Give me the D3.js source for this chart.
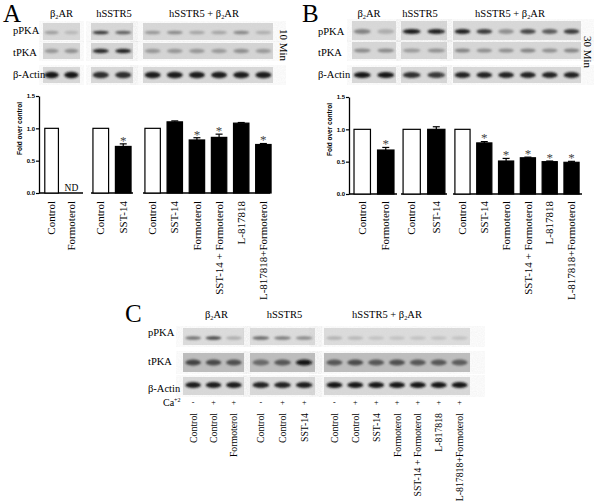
<!DOCTYPE html>
<html>
<head>
<meta charset="utf-8">
<script src="https://cdn.jsdelivr.net/npm/d3@7"></script>
<style>
  body { margin: 0; background: #fff; }
  .serif { font-family: "Liberation Serif", "DejaVu Serif", serif; }
  .sans { font-family: "Liberation Sans", Arial, sans-serif; }
</style>
</head>
<body>
<script>
// ---- data ----
const groupNames = ["β2AR", "hSSTR5", "hSSTR5 + β2AR"];
const rowNames = ["pPKA", "tPKA", "β-Actin"];

// panel A, 10 min
const labelsA = [["Control", "Formoterol"], ["Control", "SST-14"],
  ["Control", "SST-14", "Formoterol", "SST-14 + Formoterol", "L-817818", "L-817818+Formoterol"]];
const valuesA = [[1.0, null], [1.0, 0.72], [1.0, 1.10, 0.82, 0.86, 1.08, 0.75]];
const errorsA = [[0, 0], [0, 0.04], [0, 0.015, 0.035, 0.05, 0.01, 0.015]];
const starsA = [[0, 0], [0, 1], [0, 0, 1, 1, 0, 1]];

// panel B, 30 min
const labelsB = labelsA;
const valuesB = [[1.0, 0.68], [1.0, 1.0], [1.0, 0.79, 0.51, 0.56, 0.50, 0.49]];
const errorsB = [[0, 0.04], [0, 0.04], [0, 0.02, 0.04, 0.01, 0.01, 0.015]];
const starsB = [[0, 1], [0, 0], [0, 1, 1, 1, 1, 1]];

// panel C lanes
const labelsC = [["Control", "Control", "Formoterol"], ["Control", "Control", "SST-14"],
  ["Control", "Control", "SST-14", "Formoterol", "SST-14 + Formoterol", "L-817818", "L-817818+Formoterol"]];
const calciumC = [["-", "+", "+"], ["-", "+", "+"], ["-", "+", "+", "+", "+", "+", "+"]];

// band darkness (0 = none, 1 = black)
const pPKA_A = [[0.28, 0.15], [0.8, 0.6], [0.32, 0.38, 0.25, 0.25, 0.4, 0.2]];
const tPKA_A = [[0.32, 0.35], [0.88, 0.92], [0.32, 0.32, 0.32, 0.3, 0.36, 0.3]];
const actin_A = [[0.97, 0.97], [0.85, 0.85], [0.95, 0.95, 0.95, 0.95, 0.95, 0.95]];
const pPKA_B = [[0.42, 0.2], [0.95, 0.92], [0.92, 0.78, 0.35, 0.72, 0.62, 0.78]];
const tPKA_B = [[0.38, 0.38], [0.3, 0.35], [0.42, 0.36, 0.36, 0.42, 0.36, 0.42]];
const actin_B = [[0.97, 0.97], [0.85, 0.8], [0.92, 0.92, 0.92, 0.92, 0.92, 0.92]];
const pPKA_C = [[0.5, 0.72, 0.2], [0.55, 0.45, 0.38], [0.18, 0.15, 0.1, 0.1, 0.1, 0.1, 0.1]];
const tPKA_C = [[0.75, 0.72, 0.68], [0.55, 0.65, 0.98], [0.65, 0.7, 0.65, 0.68, 0.65, 0.65, 0.62]];
const actin_C = [[0.95, 0.95, 0.95], [0.92, 0.92, 0.95], [0.97, 0.97, 0.97, 0.97, 0.97, 0.97, 0.97]];

// ---- setup ----
const svg = d3.select('body').append('svg')
  .attr('width', 600).attr('height', 504)
  .style('display', 'block');
svg.append('rect').attr('width', 600).attr('height', 504).attr('fill', '#fff');

const defs = svg.append('defs');
defs.append('filter').attr('id', 'blur')
  .attr('x', '-30%').attr('y', '-60%').attr('width', '160%').attr('height', '220%')
  .append('feGaussianBlur').attr('stdDeviation', 0.9);
let grain = defs.append('filter').attr('id', 'grain');
grain.append('feTurbulence').attr('type', 'fractalNoise').attr('baseFrequency', 0.8).attr('numOctaves', 2).attr('seed', 3);
grain.append('feColorMatrix').attr('values', '0 0 0 0 0.5  0 0 0 0 0.5  0 0 0 0 0.5  0 0 0 0.35 0');

const shade = d3.interpolateRgb('#d4d4d4', '#121212');

const laneScales = (boxes, labels, pi, po) =>
  boxes.map((b, gi) => d3.scaleBand().domain(d3.range(labels[gi].length)).range(b)
    .paddingInner(pi).paddingOuter(po));

const headerText = (g, x, y, txt, size) => {
  let t = g.append('text').attr('class', 'serif').attr('x', x).attr('y', y)
    .attr('text-anchor', 'middle').attr('font-size', size);
  txt.split('β2').forEach((part, i) => {
    if (i > 0) {
      t.append('tspan').text('β');
      t.append('tspan').attr('font-size', size * 0.6).attr('dy', 1.5).text('2');
      t.append('tspan').attr('dy', -1.5).text(part);
    } else t.append('tspan').text(part);
  });
};

const drawBlots = (g, cfg, scales, rows) => {
  scales.forEach((xs, gi) => {
    headerText(g, (cfg.boxes[gi][0] + cfg.boxes[gi][1]) / 2 + cfg.headDx[gi], cfg.headY, groupNames[gi], 10.5);
    rows.forEach((row, ri) => {
      let [y0, y1] = cfg.rows[ri];
      let bx = cfg.boxes[gi];
      g.append('rect').attr('x', bx[0]).attr('y', y0).attr('width', bx[1] - bx[0]).attr('height', y1 - y0)
        .attr('fill', cfg.bg[ri]);
      g.append('rect').attr('x', bx[0]).attr('y', y0).attr('width', bx[1] - bx[0]).attr('height', y1 - y0)
        .attr('filter', 'url(#grain)').attr('opacity', 0.5);
      g.selectAll(null).data(row[gi]).enter().append('ellipse')
        .attr('cx', (d, i) => xs(i) + xs.bandwidth() / 2)
        .attr('cy', (y0 + y1) / 2 + cfg.bandDy[ri])
        .attr('rx', xs.bandwidth() * 0.48)
        .attr('ry', cfg.bandH[ri])
        .attr('fill', d => shade(d))
        .attr('filter', 'url(#blur)');
    });
  });
  rowNames.forEach((r, ri) => {
    g.append('text').attr('class', 'serif').attr('x', cfg.rowX).attr('y', cfg.rowY[ri])
      .attr('font-size', 10.5).text(r);
  });
};

const laneLabels = (g, scales, labels, top, size) => {
  scales.forEach((xs, gi) => {
    g.selectAll(null).data(labels[gi]).enter().append('text')
      .attr('class', 'serif').attr('font-size', size).attr('text-anchor', 'end')
      .attr('transform', (d, i) => `translate(${xs(i) + xs.bandwidth() / 2 + 3.6},${top}) rotate(-90)`)
      .text(d => d);
  });
};

const drawChart = (g, cfg, scales, values, errors, stars) => {
  let y = d3.scaleLinear().domain([0, 1.5]).range([cfg.y0, cfg.y1]);
  let ax = g.append('g').attr('transform', `translate(${cfg.axisX},0)`)
    .call(d3.axisLeft(y).tickValues([0, 0.5, 1, 1.5]).tickSize(3).tickSizeOuter(0).tickFormat(d3.format('.1f')));
  ax.select('.domain').attr('stroke-width', 1.3);
  ax.selectAll('.tick line').attr('stroke-width', 1.2);
  ax.selectAll('.tick text').attr('class', 'sans').attr('font-size', 6).attr('font-weight', 'bold').attr('x', -4);

  g.append('text').attr('class', 'sans').attr('font-size', 6.5).attr('font-weight', 'bold')
    .attr('text-anchor', 'middle')
    .attr('transform', `translate(${cfg.titleX},${(cfg.y0 + cfg.y1) / 2 - 16}) rotate(-90)`)
    .text('Fold over control');

  scales.forEach((xs, gi) => {
    g.append('line').attr('x1', cfg.base[gi][0]).attr('x2', cfg.base[gi][1])
      .attr('y1', cfg.y0).attr('y2', cfg.y0).attr('stroke', '#000').attr('stroke-width', 1.3);
    values[gi].forEach((v, i) => {
      let cx = xs(i) + xs.bandwidth() / 2;
      if (v === null) {
        g.append('text').attr('class', 'serif').attr('x', cx).attr('y', cfg.y0 - 2.5)
          .attr('text-anchor', 'middle').attr('font-size', 9.5).text('ND');
        return;
      }
      let top = y(v + errors[gi][i]);
      if (errors[gi][i] > 0) {
        g.append('line').attr('x1', cx).attr('x2', cx).attr('y1', y(v)).attr('y2', top)
          .attr('stroke', '#000').attr('stroke-width', 1.2);
        g.append('line').attr('x1', cx - 3.5).attr('x2', cx + 3.5).attr('y1', top).attr('y2', top)
          .attr('stroke', '#000').attr('stroke-width', 1.2);
      }
      g.append('rect').attr('x', xs(i) + 0.6).attr('y', y(v))
        .attr('width', xs.bandwidth() - 1.2).attr('height', cfg.y0 - y(v))
        .attr('fill', i === 0 ? '#fff' : '#000').attr('stroke', '#000').attr('stroke-width', 1.2);
      if (stars[gi][i]) {
        g.append('text').attr('class', 'serif').attr('x', cx).attr('y', top + 0.8)
          .attr('text-anchor', 'middle').attr('font-size', 13).attr('fill', '#444').text('*');
      }
    });
  });
};

// ---- panel A ----
const cfgA = {
  boxes: [[43, 80], [91, 133], [143, 273]],
  headDx: [0, 2, -4], headY: 17,
  rows: [[23, 40], [43, 59], [67, 83]],
  bg: ['#d9d9d9', '#d6d6d6', '#dadada'],
  bandH: [1.8, 2.2, 3.2], bandDy: [1, 0, 0],
  rowX: 13, rowY: [34, 56, 78],
  axisX: 39, y0: 193, y1: 96, titleX: 22,
  base: [[39, 83], [91, 133], [143, 270]]
};
const gA = svg.append('g');
const xsA = laneScales(cfgA.boxes, labelsA, 0.25, 0.06);
gA.append('text').attr('class', 'serif').attr('x', 3).attr('y', 22).attr('font-size', 25).text('A');
drawBlots(gA, cfgA, xsA, [pPKA_A, tPKA_A, actin_A]);
drawChart(gA, cfgA, xsA, valuesA, errorsA, starsA);
laneLabels(gA, xsA, labelsA, 201, 11);
gA.append('text').attr('class', 'serif').attr('font-size', 11).attr('text-anchor', 'middle')
  .attr('transform', 'translate(280,45) rotate(90)').text('10 Min');

// ---- panel B ----
const cfgB = {
  boxes: [[352, 396], [401, 447], [453, 581]],
  headDx: [-5, -4, -7], headY: 17,
  rows: [[21, 40], [42, 59], [67, 83]],
  bg: ['#dadada', '#d8d8d8', '#dadada'],
  bandH: [2.4, 2.0, 3.0], bandDy: [1, 0, 0],
  rowX: 318, rowY: [35, 56, 78],
  axisX: 349, y0: 194, y1: 97, titleX: 332,
  base: [[349, 397], [401, 447], [453, 582]]
};
const gB = svg.append('g');
const xsB = laneScales(cfgB.boxes, labelsB, 0.25, 0.06);
gB.append('text').attr('class', 'serif').attr('x', 302).attr('y', 22).attr('font-size', 25).text('B');
drawBlots(gB, cfgB, xsB, [pPKA_B, tPKA_B, actin_B]);
drawChart(gB, cfgB, xsB, valuesB, errorsB, starsB);
laneLabels(gB, xsB, labelsB, 201, 11);
gB.append('text').attr('class', 'serif').attr('font-size', 11).attr('text-anchor', 'middle')
  .attr('transform', 'translate(584,52) rotate(90)').text('30 Min');

// ---- panel C ----
const cfgC = {
  boxes: [[183, 244], [250, 315], [324, 470]],
  headDx: [3, 2, -10], headY: 318,
  rows: [[328, 345], [353, 372], [377, 395]],
  bg: ['#dedede', '#bdbdbd', '#dadada'],
  bandH: [1.8, 3.0, 3.0], bandDy: [1.5, 0, -1],
  rowX: 148, rowY: [336, 365, 392]
};
const gC = svg.append('g');
const xsC = laneScales(cfgC.boxes, labelsC, 0.2, 0.1);
gC.append('text').attr('class', 'serif').attr('x', 125).attr('y', 322).attr('font-size', 25).text('C');
drawBlots(gC, cfgC, xsC, [pPKA_C, tPKA_C, actin_C]);
let ca = gC.append('text').attr('class', 'serif').attr('x', 163).attr('y', 406).attr('font-size', 10);
ca.append('tspan').text('Ca');
ca.append('tspan').attr('font-size', 6).attr('dy', -4).text('+2');
xsC.forEach((xs, gi) => {
  gC.selectAll(null).data(calciumC[gi]).enter().append('text')
    .attr('class', 'serif').attr('font-size', 8).attr('text-anchor', 'middle')
    .attr('x', (d, i) => xs(i) + xs.bandwidth() / 2).attr('y', 405)
    .text(d => d);
});
laneLabels(gC, xsC, labelsC, 413, 9.8);
</script>
</body>
</html>
